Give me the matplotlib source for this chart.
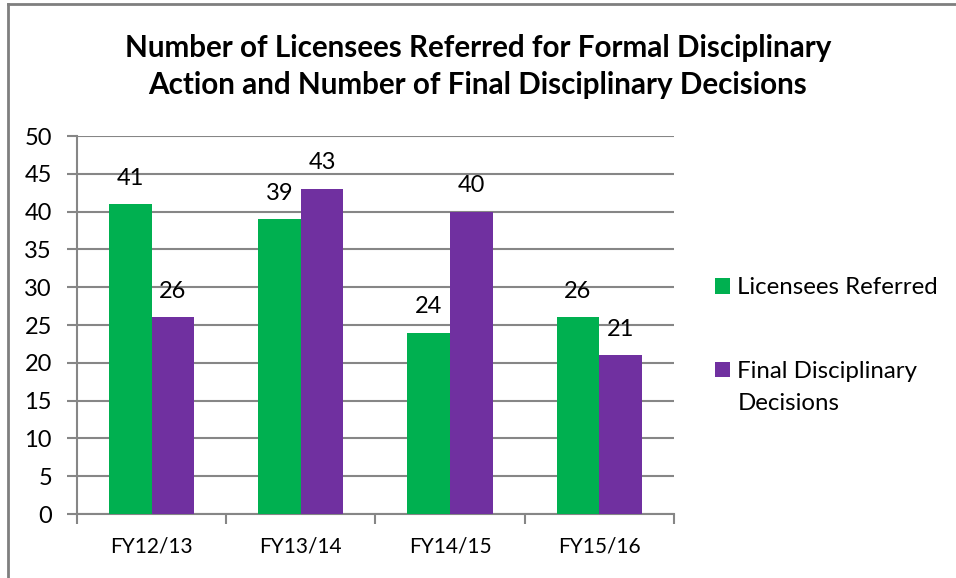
import numpy as np
import matplotlib.pyplot as plt
from matplotlib.lines import Line2D
from matplotlib.transforms import IdentityTransform

plt.rcParams['font.family'] = ['Lato', 'DejaVu Sans']

# data
years = ["FY12/13", "FY13/14", "FY14/15", "FY15/16"]
referred = [41, 39, 24, 26]
decisions = [26, 43, 40, 21]
series_names = ["Licensees Referred", "Final Disciplinary"]

green = "#00B050"
purple = "#7030A0"
grid_col = "#868686"

fig = plt.figure(figsize=(9.56, 5.78), dpi=100)
ax = fig.add_axes([0.0805, 0.1107, 0.6245, 0.654])

x = np.arange(len(years))
w = 1 / 3.5
b1 = ax.bar(x - w / 2, referred, w, color=green, label=series_names[0], zorder=3)
b2 = ax.bar(x + w / 2, decisions, w, color=purple, label=series_names[1], zorder=3)

for bars, vals in [(b1, referred), (b2, decisions)]:
    for r, v in zip(bars, vals):
        ax.annotate(str(v), (r.get_x() + r.get_width() / 2, v),
                    xytext=(0, 26), textcoords="offset pixels",
                    ha="center", va="center", fontsize=17)

ax.set_xlim(-0.5, len(years) - 0.5)
ax.set_ylim(0, 50)
ax.set_yticks(np.arange(0, 51, 5))
ax.yaxis.grid(True, color=grid_col, linewidth=1.5, zorder=0)
ax.set_axisbelow(True)

# x axis: ticks at category borders, labels at centres
ax.set_xticks(np.arange(-0.5, len(years), 1))
ax.set_xticklabels([])
ax.set_xticks(x, minor=True)
ax.set_xticklabels(years, minor=True, fontsize=15)
ax.tick_params(axis="x", which="minor", length=0, pad=16)
ax.tick_params(axis="x", which="major", length=7, width=1.5, color=grid_col)
ax.tick_params(axis="y", length=7, width=1.5, color=grid_col, labelsize=17, pad=11)

for s in ["top", "right"]:
    ax.spines[s].set_visible(False)
for s in ["left", "bottom"]:
    ax.spines[s].set_color(grid_col)
    ax.spines[s].set_linewidth(1.5)

fig.text(0.5, 0.917, "Number of Licensees Referred for Formal Disciplinary",
         ha="center", va="center", fontsize=21.3, fontweight="bold")
fig.text(0.5, 0.853, "Action and Number of Final Disciplinary Decisions",
         ha="center", va="center", fontsize=21.3, fontweight="bold")

leg = fig.legend(loc="upper left", bbox_to_anchor=(0.748, 0.520), frameon=False,
                 fontsize=17.3, handlelength=0.63, handleheight=0.63,
                 handletextpad=0.3, labelspacing=2.6, borderpad=0,
                 borderaxespad=0)

# second line of the purple legend label, under its first line
fig.canvas.draw()
bb = leg.get_texts()[1].get_window_extent()
fig.text(bb.x0, bb.y0 - 32, "Decisions", transform=IdentityTransform(),
         ha="left", va="bottom", fontsize=17.3)

# chart border
fig.add_artist(Line2D([0.0085, 0.0085], [0, 0.993], color="#7f7f7f", lw=2))
fig.add_artist(Line2D([0.0085, 1.0], [0.993, 0.993], color="#7f7f7f", lw=2))

fig.savefig("out.png", dpi=100)
